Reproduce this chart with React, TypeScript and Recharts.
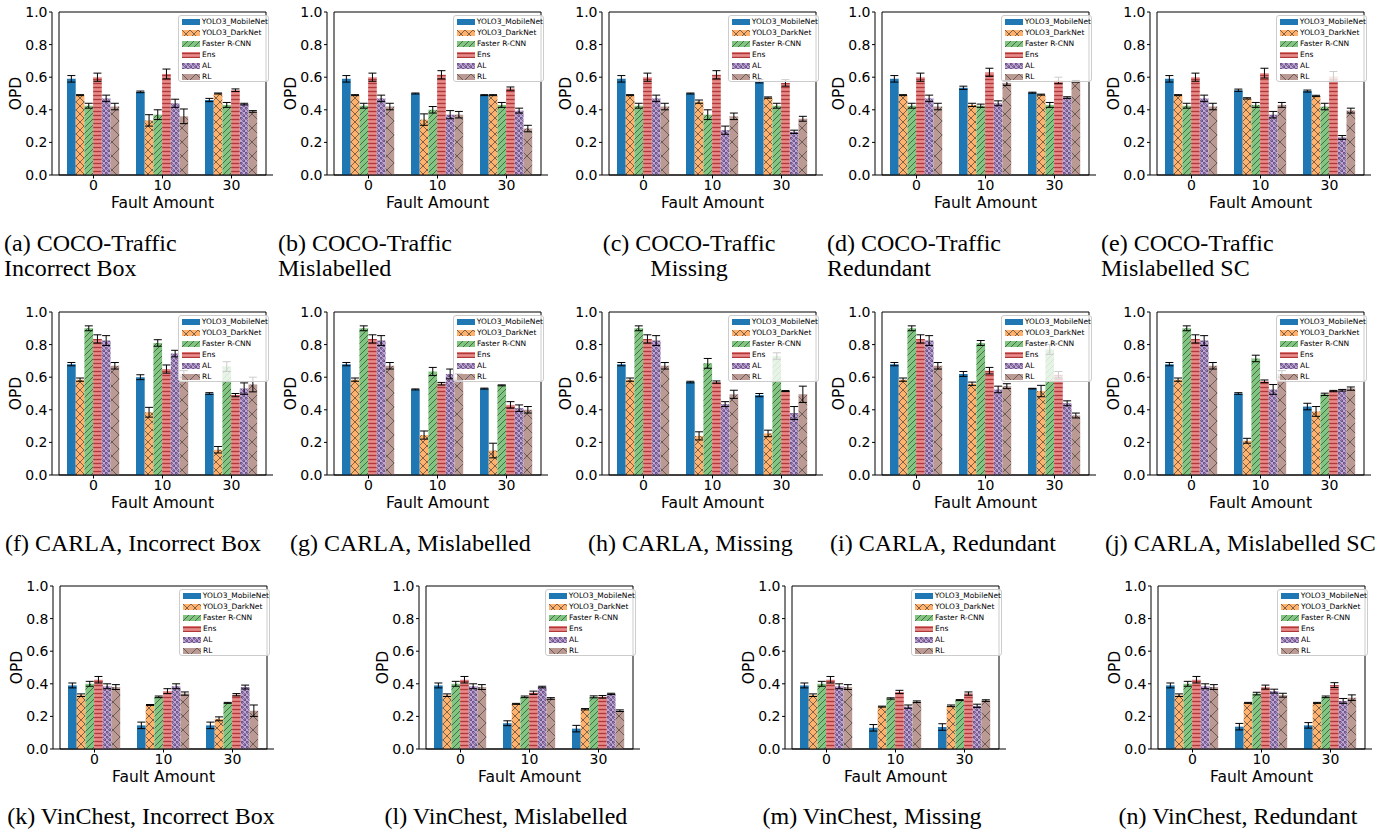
import React from 'react';
import { BarChart, Bar, XAxis, YAxis, ErrorBar, Legend, ReferenceArea } from 'recharts';

// ---------- categories / series / ticks ----------
const FAULT_AMOUNTS = ['0', '10', '30'];
const MODELS = ['YOLO3_MobileNet', 'YOLO3_DarkNet', 'Faster R-CNN', 'Ens', 'AL', 'RL'];
const Y_TICKS = [0, 0.2, 0.4, 0.6, 0.8, 1.0];

// ---------- values: one row per model, columns = fault amount 0 / 10 / 30 ----------
const A_MEAN = [[0.59, 0.51, 0.46], [0.49, 0.335, 0.5], [0.425, 0.37, 0.43], [0.6, 0.62, 0.52], [0.47, 0.44, 0.435], [0.42, 0.36, 0.39]];
const A_ERR = [[0.02, 0.005, 0.01], [0.003, 0.035, 0.003], [0.015, 0.03, 0.015], [0.025, 0.03, 0.008], [0.02, 0.025, 0.005], [0.02, 0.045, 0.005]];

const B_MEAN = [[0.59, 0.5, 0.49], [0.49, 0.34, 0.49], [0.425, 0.4, 0.43], [0.6, 0.615, 0.53], [0.47, 0.37, 0.395], [0.42, 0.37, 0.285]];
const B_ERR = [[0.02, 0.003, 0.003], [0.003, 0.035, 0.003], [0.015, 0.02, 0.015], [0.025, 0.025, 0.01], [0.02, 0.025, 0.015], [0.02, 0.02, 0.02]];

const C_MEAN = [[0.59, 0.5, 0.575], [0.49, 0.45, 0.475], [0.425, 0.37, 0.425], [0.6, 0.615, 0.565], [0.47, 0.275, 0.265], [0.42, 0.36, 0.345]];
const C_ERR = [[0.02, 0.003, 0.01], [0.003, 0.01, 0.004], [0.015, 0.03, 0.015], [0.025, 0.025, 0.02], [0.02, 0.025, 0.01], [0.02, 0.02, 0.015]];

const D_MEAN = [[0.59, 0.535, 0.505], [0.49, 0.43, 0.493], [0.425, 0.425, 0.43], [0.6, 0.63, 0.58], [0.47, 0.44, 0.475], [0.42, 0.565, 0.575]];
const D_ERR = [[0.02, 0.01, 0.003], [0.003, 0.01, 0.003], [0.015, 0.01, 0.015], [0.025, 0.025, 0.02], [0.02, 0.015, 0.005], [0.02, 0.015, 0.005]];

const E_MEAN = [[0.59, 0.52, 0.515], [0.49, 0.47, 0.485], [0.425, 0.43, 0.42], [0.6, 0.625, 0.605], [0.47, 0.37, 0.23], [0.42, 0.43, 0.395]];
const E_ERR = [[0.02, 0.007, 0.006], [0.003, 0.004, 0.004], [0.015, 0.015, 0.02], [0.025, 0.03, 0.03], [0.02, 0.02, 0.012], [0.02, 0.015, 0.015]];

const F_MEAN = [[0.68, 0.6, 0.5], [0.585, 0.385, 0.155], [0.9, 0.81, 0.665], [0.835, 0.65, 0.49], [0.825, 0.745, 0.53], [0.67, 0.62, 0.555]];
const F_ERR = [[0.01, 0.015, 0.005], [0.01, 0.03, 0.02], [0.015, 0.02, 0.03], [0.025, 0.025, 0.01], [0.03, 0.02, 0.035], [0.02, 0.02, 0.045]];

const G_MEAN = [[0.68, 0.525, 0.53], [0.585, 0.245, 0.15], [0.9, 0.635, 0.55], [0.835, 0.56, 0.43], [0.825, 0.62, 0.41], [0.67, 0.6, 0.4]];
const G_ERR = [[0.01, 0.003, 0.003], [0.01, 0.025, 0.045], [0.015, 0.025, 0.003], [0.025, 0.008, 0.02], [0.03, 0.03, 0.02], [0.02, 0.02, 0.02]];

const H_MEAN = [[0.68, 0.57, 0.49], [0.585, 0.24, 0.255], [0.9, 0.685, 0.73], [0.835, 0.57, 0.515], [0.825, 0.435, 0.38], [0.67, 0.495, 0.495]];
const H_ERR = [[0.01, 0.005, 0.01], [0.01, 0.025, 0.02], [0.015, 0.03, 0.02], [0.025, 0.007, 0.003], [0.03, 0.015, 0.04], [0.02, 0.025, 0.05]];

const I_MEAN = [[0.68, 0.62, 0.53], [0.585, 0.56, 0.515], [0.9, 0.81, 0.77], [0.835, 0.64, 0.615], [0.825, 0.525, 0.44], [0.67, 0.545, 0.365]];
const I_ERR = [[0.01, 0.015, 0.002], [0.01, 0.01, 0.035], [0.015, 0.015, 0.03], [0.025, 0.02, 0.02], [0.03, 0.02, 0.015], [0.02, 0.015, 0.015]];

const J_MEAN = [[0.68, 0.5, 0.42], [0.585, 0.21, 0.39], [0.9, 0.715, 0.495], [0.835, 0.575, 0.515], [0.825, 0.525, 0.52], [0.67, 0.62, 0.53]];
const J_ERR = [[0.01, 0.005, 0.02], [0.01, 0.015, 0.03], [0.015, 0.02, 0.007], [0.025, 0.008, 0.004], [0.03, 0.03, 0.005], [0.02, 0.02, 0.01]];

const K_MEAN = [[0.39, 0.145, 0.145], [0.33, 0.27, 0.185], [0.4, 0.32, 0.283], [0.425, 0.355, 0.333], [0.385, 0.385, 0.38], [0.38, 0.34, 0.235]];
const K_ERR = [[0.015, 0.02, 0.02], [0.008, 0.003, 0.012], [0.015, 0.005, 0.003], [0.02, 0.015, 0.007], [0.015, 0.015, 0.012], [0.015, 0.01, 0.035]];

const L_MEAN = [[0.39, 0.158, 0.125], [0.33, 0.277, 0.244], [0.4, 0.32, 0.32], [0.425, 0.345, 0.32], [0.385, 0.38, 0.338], [0.38, 0.31, 0.235]];
const L_ERR = [[0.015, 0.015, 0.02], [0.008, 0.003, 0.004], [0.015, 0.005, 0.006], [0.02, 0.01, 0.008], [0.015, 0.005, 0.004], [0.015, 0.005, 0.005]];

const M_MEAN = [[0.39, 0.13, 0.135], [0.33, 0.26, 0.265], [0.4, 0.31, 0.3], [0.425, 0.35, 0.34], [0.385, 0.26, 0.265], [0.38, 0.29, 0.297]];
const M_ERR = [[0.015, 0.02, 0.02], [0.008, 0.003, 0.005], [0.015, 0.004, 0.003], [0.02, 0.01, 0.01], [0.015, 0.01, 0.01], [0.015, 0.005, 0.005]];

const N_MEAN = [[0.39, 0.137, 0.145], [0.33, 0.283, 0.283], [0.4, 0.34, 0.32], [0.425, 0.38, 0.392], [0.385, 0.355, 0.295], [0.38, 0.33, 0.315]];
const N_ERR = [[0.015, 0.02, 0.017], [0.008, 0.003, 0.003], [0.015, 0.008, 0.005], [0.02, 0.012, 0.015], [0.015, 0.012, 0.015], [0.015, 0.012, 0.017]];

// ---------- caption texts ----------
const CAPTION_A = ['(a) COCO-Traffic', 'Incorrect Box'];
const CAPTION_B = ['(b) COCO-Traffic', 'Mislabelled'];
const CAPTION_C = ['(c) COCO-Traffic', 'Missing'];
const CAPTION_D = ['(d) COCO-Traffic', 'Redundant'];
const CAPTION_E = ['(e) COCO-Traffic', 'Mislabelled SC'];
const CAPTION_F = ['(f) CARLA, Incorrect Box'];
const CAPTION_G = ['(g) CARLA, Mislabelled'];
const CAPTION_H = ['(h) CARLA, Missing'];
const CAPTION_I = ['(i) CARLA, Redundant'];
const CAPTION_J = ['(j) CARLA, Mislabelled SC'];
const CAPTION_K = ['(k) VinChest, Incorrect Box'];
const CAPTION_L = ['(l) VinChest, Mislabelled'];
const CAPTION_M = ['(m) VinChest, Missing'];
const CAPTION_N = ['(n) VinChest, Redundant'];

// ---------- styles ----------
const FILLS = ['#1f77b4', 'url(#h-orange)', 'url(#h-green)', 'url(#h-red)', 'url(#h-purple)', 'url(#h-brown)'];
const YAW = 52; // y-axis area width
const PW = 221; // plot width
const PH = 163; // plot height
const TM = 10;
const RM = 3;
const XAH = 40;
const XPAD = 7;
const BAR = 8.7;

function PatternDefs() {
  const ink = '#2a2a2a';
  return (
    <svg width={0} height={0} style={{ position: 'absolute' }}>
      <defs>
        <pattern id="h-orange" patternUnits="userSpaceOnUse" width={8} height={8}>
          <rect width={8} height={8} fill="#ffb26e" />
          <path d="M0,0 L8,8 M8,0 L0,8 M-1,7 L1,9 M7,-1 L9,1 M-1,1 L1,-1 M7,9 L9,7" stroke={ink} strokeOpacity={0.75} strokeWidth={0.8} />
        </pattern>
        <pattern id="h-green" patternUnits="userSpaceOnUse" width={6} height={6}>
          <rect width={6} height={6} fill="#80c680" />
          <path d="M0,6 L6,0 M-1,1 L1,-1 M5,7 L7,5" stroke={ink} strokeOpacity={0.75} strokeWidth={0.8} />
        </pattern>
        <pattern id="h-red" patternUnits="userSpaceOnUse" width={4} height={4}>
          <rect width={4} height={4} fill="#e98a8a" />
          <path d="M0,1.5 H4" stroke="#b03838" strokeWidth={1.4} />
        </pattern>
        <pattern id="h-purple" patternUnits="userSpaceOnUse" width={5} height={5}>
          <rect width={5} height={5} fill="#bfa4d7" />
          <circle cx={1.25} cy={1.25} r={1} fill="none" stroke="#3b2a55" strokeWidth={0.8} />
          <circle cx={3.75} cy={3.75} r={1} fill="none" stroke="#3b2a55" strokeWidth={0.8} />
        </pattern>
        <pattern id="h-brown" patternUnits="userSpaceOnUse" width={14} height={14}>
          <rect width={14} height={14} fill="#ba9a93" />
          <path d="M0,0 L14,14 M14,0 L0,14 M-1,13 L1,15 M13,-1 L15,1 M-1,1 L1,-1 M13,15 L15,13" stroke={ink} strokeOpacity={0.7} strokeWidth={0.8} />
        </pattern>
      </defs>
    </svg>
  );
}

function YLabel(props: any) {
  const vb = props.viewBox || { x: 0, y: 0, width: YAW, height: PH };
  const cx = vb.x + vb.width - 36;
  const cy = vb.y + vb.height / 2;
  return (
    <text x={cx} y={cy} transform={`rotate(-90 ${cx} ${cy})`} textAnchor="middle" dominantBaseline="central"
      fontSize={15.5} fill="#000" fontFamily="DejaVu Sans">OPD</text>
  );
}

function XLabel(props: any) {
  const vb = props.viewBox || { x: YAW, y: TM + PH, width: PW, height: XAH };
  return (
    <text x={vb.x + vb.width / 2} y={vb.y + 28} textAnchor="middle" dominantBaseline="central"
      fontSize={15.5} fill="#000" fontFamily="DejaVu Sans">Fault Amount</text>
  );
}

function HatchLegend() {
  return (
    <div style={{
      width: 91, height: 67, boxSizing: 'border-box', border: '1px solid #cccccc', borderRadius: 3,
      background: 'rgba(255,255,255,0.8)', fontFamily: 'DejaVu Sans', fontSize: 7.5, color: '#000', paddingTop: 0,
    }}>
      {MODELS.map((m, k) => (
        <div key={m} style={{ display: 'flex', alignItems: 'center', height: 11 }}>
          <svg width={18} height={6} style={{ display: 'block', marginLeft: 3, marginRight: 2 }}>
            <rect width={18} height={6} fill={FILLS[k]} />
          </svg>
          <span style={{ lineHeight: '11px', whiteSpace: 'nowrap' }}>{m}</span>
        </div>
      ))}
    </div>
  );
}

function Panel({ mean, err, left, top }: { mean: number[][]; err: number[][]; left: number; top: number }) {
  const data = FAULT_AMOUNTS.map((c, i) => {
    const row: any = { cat: c };
    MODELS.forEach((_, k) => {
      row['m' + k] = mean[k][i];
      row['e' + k] = err[k][i];
    });
    return row;
  });
  const axisFont = { fontSize: 14, fill: '#000', fontFamily: 'DejaVu Sans' };
  return (
    <div style={{ position: 'absolute', left: left - YAW, top: top - TM }}>
      <BarChart width={YAW + PW + RM} height={TM + PH + XAH} data={data}
        margin={{ top: TM, right: RM, left: 0, bottom: 0 }} barGap={0} barSize={BAR}>
        <XAxis dataKey="cat" height={XAH} padding={{ left: XPAD, right: XPAD }} tickSize={3.5} tickMargin={2}
          tick={axisFont} stroke="#000" interval={0} label={<XLabel />} />
        <YAxis domain={[0, 1]} ticks={Y_TICKS} tickFormatter={(v: number) => v.toFixed(1)} width={YAW}
          tickSize={3} tickMargin={1.5} tick={axisFont} stroke="#000" interval={0} label={<YLabel />} />
        <ReferenceArea y1={0} y2={1} fill="none" fillOpacity={0} stroke="#000" strokeWidth={1} ifOverflow="visible" />
        {MODELS.map((m, k) => (
          <Bar key={m} dataKey={'m' + k} name={m} fill={FILLS[k]} isAnimationActive={false}>
            <ErrorBar dataKey={'e' + k} width={4} stroke="#000" strokeWidth={1} direction="y" />
          </Bar>
        ))}
        <Legend content={<HatchLegend />} layout="vertical" align="center" verticalAlign="middle"
          wrapperStyle={{ left: YAW + PW - 4 - 91, top: TM + 3, width: 91, height: 67, margin: 0 }} />
      </BarChart>
    </div>
  );
}

const ROW1_TOP = 12;
const ROW2_TOP = 312;
const ROW3_TOP = 586;
const PANEL_LAYOUT = [
  { mean: A_MEAN, err: A_ERR, left: 52, top: ROW1_TOP },
  { mean: B_MEAN, err: B_ERR, left: 327, top: ROW1_TOP },
  { mean: C_MEAN, err: C_ERR, left: 602, top: ROW1_TOP },
  { mean: D_MEAN, err: D_ERR, left: 875, top: ROW1_TOP },
  { mean: E_MEAN, err: E_ERR, left: 1150, top: ROW1_TOP },
  { mean: F_MEAN, err: F_ERR, left: 52, top: ROW2_TOP },
  { mean: G_MEAN, err: G_ERR, left: 327, top: ROW2_TOP },
  { mean: H_MEAN, err: H_ERR, left: 602, top: ROW2_TOP },
  { mean: I_MEAN, err: I_ERR, left: 875, top: ROW2_TOP },
  { mean: J_MEAN, err: J_ERR, left: 1150, top: ROW2_TOP },
  { mean: K_MEAN, err: K_ERR, left: 53, top: ROW3_TOP },
  { mean: L_MEAN, err: L_ERR, left: 419, top: ROW3_TOP },
  { mean: M_MEAN, err: M_ERR, left: 785, top: ROW3_TOP },
  { mean: N_MEAN, err: N_ERR, left: 1151, top: ROW3_TOP },
];

const CAPTION_LAYOUT = [
  { lines: CAPTION_A, x: 4, y: 251, anchor: 'start' },
  { lines: CAPTION_B, x: 278, y: 251, anchor: 'start' },
  { lines: CAPTION_C, x: 689, y: 251, anchor: 'middle' },
  { lines: CAPTION_D, x: 827, y: 251, anchor: 'start' },
  { lines: CAPTION_E, x: 1101, y: 251, anchor: 'start' },
  { lines: CAPTION_F, x: 5, y: 551, anchor: 'start' },
  { lines: CAPTION_G, x: 290, y: 551, anchor: 'start' },
  { lines: CAPTION_H, x: 588, y: 551, anchor: 'start' },
  { lines: CAPTION_I, x: 830, y: 551, anchor: 'start' },
  { lines: CAPTION_J, x: 1105, y: 551, anchor: 'start' },
  { lines: CAPTION_K, x: 141, y: 824, anchor: 'middle' },
  { lines: CAPTION_L, x: 506, y: 824, anchor: 'middle' },
  { lines: CAPTION_M, x: 872, y: 824, anchor: 'middle' },
  { lines: CAPTION_N, x: 1238, y: 824, anchor: 'middle' },
];

export default function App() {
  return (
    <div style={{ position: 'absolute', left: 0, top: 0, width: 1395, height: 833, background: '#fff', overflow: 'hidden' }}>
      <PatternDefs />
      {PANEL_LAYOUT.map((p, i) => (
        <Panel key={i} mean={p.mean} err={p.err} left={p.left} top={p.top} />
      ))}
      <svg width={1395} height={833} style={{ position: 'absolute', left: 0, top: 0, pointerEvents: 'none' }}>
        {CAPTION_LAYOUT.map((c, i) => (
          <text key={i} x={c.x} y={c.y} textAnchor={c.anchor as any} fontFamily="Liberation Serif" fontSize={24} fill="#000">
            {c.lines.map((ln, j) => (
              <tspan key={j} x={c.x} dy={j === 0 ? 0 : 25}>{ln}</tspan>
            ))}
          </text>
        ))}
      </svg>
    </div>
  );
}
